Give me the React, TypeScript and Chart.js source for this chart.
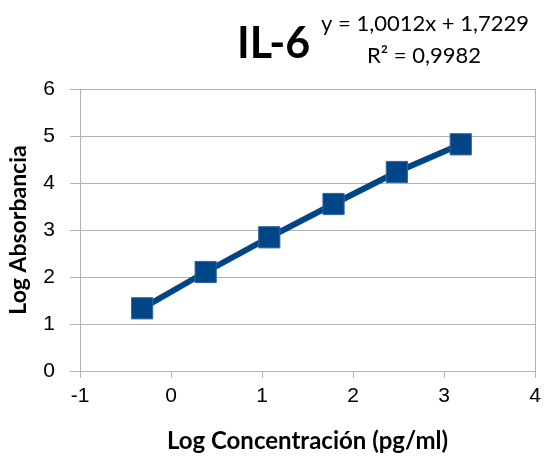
import React, { useEffect, useRef } from "react";
import { Chart, registerables } from "chart.js";

Chart.register(...registerables);

const logConcentration = [-0.317, 0.381, 1.08, 1.786, 2.482, 3.184];
const logAbsorbance = [1.334, 2.106, 2.845, 3.553, 4.234, 4.823];
const titleText = "IL-6";
const equationText = "y = 1,0012x + 1,7229";
const r2Text = "R² = 0,9982";
const xAxisTitle = "Log Concentración (pg/ml)";
const yAxisTitle = "Log Absorbancia";

const GRID = "#b3b3b3";
const BLUE = "#004586";

const headerPlugin = {
  id: "header",
  afterDraw(chart: any) {
    const ctx = chart.ctx;
    ctx.save();
    ctx.fillStyle = "#000";
    ctx.textBaseline = "alphabetic";
    ctx.textAlign = "left";
    ctx.font = "bold 43px Lato";
    ctx.fillText(titleText, 237, 58);
    ctx.font = "22px Lato";
    ctx.textAlign = "center";
    ctx.fillText(equationText, 425, 31);
    ctx.fillText(r2Text, 424, 63);
    ctx.restore();
  },
};

export default function App() {
  const ref = useRef<HTMLCanvasElement>(null);
  useEffect(() => {
    document.body.style.margin = "0";
    const chart = new Chart(ref.current!, {
      type: "scatter",
      data: {
        datasets: [
          {
            data: logConcentration.map((x, i) => ({ x, y: logAbsorbance[i] })),
            showLine: true,
            borderColor: BLUE,
            borderWidth: 6,
            backgroundColor: BLUE,
            pointStyle: "rect",
            pointRadius: 15,
            pointBorderColor: "#3465a4",
            pointBorderWidth: 1,
          },
        ],
      },
      options: {
        animation: false,
        responsive: false,
        layout: { autoPadding: false, padding: { top: 89, right: 0, left: 0, bottom: 0 } },
        plugins: { legend: { display: false }, tooltip: { enabled: false } },
        scales: {
          x: {
            type: "linear",
            min: -1,
            max: 4,
            afterFit: (s: any) => {
              s.height = 86;
              s.paddingRight = 10;
              s.paddingLeft = 0;
            },
            ticks: {
              stepSize: 1,
              color: "#000",
              font: { family: "Liberation Sans", size: 21 },
              padding: 6,
            },
            grid: {
              color: (c: any) => (c.index === 0 || c.index === 5 ? GRID : "rgba(0,0,0,0)"),
              tickColor: GRID,
              tickLength: 7,
              lineWidth: 1,
            },
            border: { color: GRID, width: 1 },
            title: {
              display: true,
              text: xAxisTitle,
              color: "#000",
              font: { family: "Lato", size: 24, weight: "bold" },
              padding: { top: 0, bottom: 1 },
            },
          },
          y: {
            type: "linear",
            min: 0,
            max: 6,
            afterFit: (s: any) => {
              s.width = 80;
            },
            ticks: {
              stepSize: 1,
              color: "#000",
              font: { family: "Liberation Sans", size: 21 },
              padding: 15,
            },
            grid: {
              color: GRID,
              tickColor: GRID,
              tickLength: 10,
              lineWidth: 1,
            },
            border: { color: GRID, width: 1 },
            title: {
              display: true,
              text: yAxisTitle,
              color: "#000",
              font: { family: "Lato", size: 23, weight: "bold" },
              padding: { top: 5, bottom: 0 },
            },
          },
        },
      },
      plugins: [headerPlugin],
    });
    return () => chart.destroy();
  }, []);
  return <canvas ref={ref} width={545} height={457} style={{ display: "block" }} />;
}
